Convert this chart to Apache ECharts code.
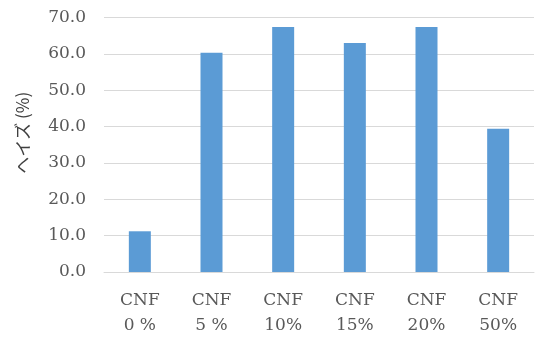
<!DOCTYPE html>
<html>
<head>
<meta charset="utf-8">
<script src="https://cdn.jsdelivr.net/npm/echarts@6/dist/echarts.min.js"></script>
<style>
  html, body { margin: 0; padding: 0; background: #fff; }
  #chart { width: 544px; height: 338px; }
</style>
</head>
<body>
<div id="chart"></div>
<script>
// CNF content of each sample and its measured haze
const categories = ['CNF\n0 %', 'CNF\n5 %', 'CNF\n10%', 'CNF\n15%', 'CNF\n20%', 'CNF\n50%'];
const hazeValues = [11.2, 60.3, 67.4, 63.0, 67.4, 39.4];
const yAxisTitle = 'ヘイズ (%)';

const chart = echarts.init(document.getElementById('chart'));
chart.setOption({
  animation: false,
  grid: { left: 104, right: 10, top: 17.5, bottom: 62.5 },
  xAxis: {
    type: 'category',
    data: categories,
    axisLine: { lineStyle: { color: '#D9D9D9', width: 1 } },
    axisTick: { show: false },
    axisLabel: {
      color: '#595959',
      fontFamily: 'DejaVu Serif',
      fontSize: 17,
      lineHeight: 25,
      margin: 16
    }
  },
  yAxis: {
    type: 'value',
    min: 0,
    max: 70,
    interval: 10,
    name: yAxisTitle,
    nameLocation: 'middle',
    nameGap: 73,
    nameRotate: 90,
    nameTextStyle: {
      color: '#404040',
      fontFamily: 'Noto Sans CJK JP',
      fontSize: 17,
      padding: [0, 0, 0, 24]
    },
    axisLine: { show: false },
    axisTick: { show: false },
    splitLine: { lineStyle: { color: '#D9D9D9', width: 1 } },
    axisLabel: {
      color: '#595959',
      fontFamily: 'DejaVu Serif',
      fontSize: 17,
      margin: 18,
      formatter: v => v.toFixed(1)
    }
  },
  series: [{
    type: 'bar',
    data: hazeValues,
    barWidth: 22,
    itemStyle: { color: '#5B9BD5' }
  }]
});
</script>
</body>
</html>
